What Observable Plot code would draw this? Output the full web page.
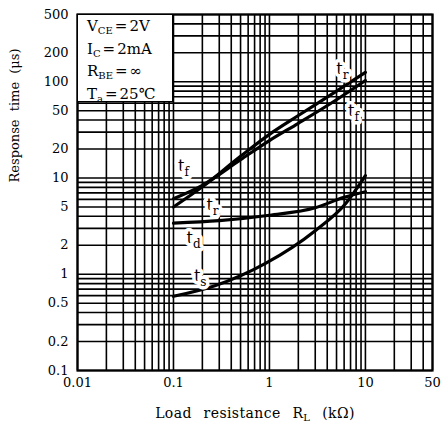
<!DOCTYPE html>
<html><head><meta charset="utf-8">
<script src="https://cdn.jsdelivr.net/npm/d3@7"></script>
<script src="https://cdn.jsdelivr.net/npm/@observablehq/plot@0.6"></script>
<style>
body{margin:0;background:#fff;}
#wrap{position:relative;width:441px;height:432px;overflow:hidden;}
#legend{position:absolute;left:77px;top:14px;width:96px;height:88px;box-sizing:border-box;background:#fff;border:1.5px solid #000;font-family:"DejaVu Serif",serif;font-size:15px;line-height:20.5px;padding:1px 0 0 9px;color:#000;white-space:nowrap;}
#legend .s{font-size:10px;position:relative;top:3px;}
#legend .eq{margin:0 2px;}
</style></head>
<body><div id="wrap"></div>
<script>
// ---- data ----
const RL_tr = [0.1, 0.2, 0.5, 1, 2, 5, 10];
const tr    = [5.0, 8.1, 16.8, 28.4, 44.6, 80, 125];
const RL_tf = [0.1, 0.2, 0.5, 1, 2, 5, 10];
const tf    = [6.1, 8.4, 15.5, 24.5, 37, 65, 103];
const RL_td = [0.1, 0.3, 1, 3, 6, 10];
const td    = [3.4, 3.6, 4.1, 4.9, 6.3, 7.2];
const RL_ts = [0.1, 0.27, 0.9, 3, 6.2, 10];
const ts    = [0.59, 0.76, 1.29, 2.84, 5.4, 10.6];

const xTicks = [0.01, 0.1, 1, 10, 50];
const yTicks = [0.1, 0.2, 0.5, 1, 2, 5, 10, 20, 50, 100, 200, 500];

const labelText = ["t_{r}", "t_{f}", "t_{f}", "t_{r}", "t_{d}", "t_{s}"];
const labelX    = [5.75, 7.5, 0.127, 0.255, 0.162, 0.19];
const labelY    = [137, 50, 13.5, 5.2, 2.4, 0.97];

const conditions = ["V_{CE}=2V", "I_{C}=2mA", "R_{BE}=∞", "T_{a}=25℃"];

const xTitle = "Load resistance R_{L} (kΩ)";
const yTitle = "Response time (μs)";

// ---- build tables ----
const seriesDefs = [["tr", RL_tr, tr], ["tf", RL_tf, tf], ["td", RL_td, td], ["ts", RL_ts, ts]];
const rows = seriesDefs.flatMap(([s, xs, ys]) => xs.map((x, i) => ({series: s, RL: x, t: ys[i]})));
const labels = labelText.map((t, i) => ({text: t, x: labelX[i], y: labelY[i]}));
const xGrid = d3.scaleLog().domain([xTicks[0], xTicks[xTicks.length - 1]]).ticks();
const yGrid = d3.scaleLog().domain([yTicks[0], yTicks[yTicks.length - 1]]).ticks();

const chart = Plot.plot({
  width: 441, height: 432,
  marginTop: 14, marginBottom: 62, marginLeft: 77, marginRight: 9,
  style: {fontFamily: '"DejaVu Serif", serif', fontSize: "13px", color: "#000", background: "#fff"},
  x: {type: "log", domain: [xTicks[0], xTicks[xTicks.length - 1]], axis: null},
  y: {type: "log", domain: [yTicks[0], yTicks[yTicks.length - 1]], axis: null},
  marks: [
    Plot.ruleX(xGrid, {stroke: "#000", strokeWidth: 1.6}),
    Plot.ruleY(yGrid, {stroke: "#000", strokeWidth: 1.6}),
    Plot.frame({stroke: "#000", strokeWidth: 2.2}),
    Plot.line(rows, {x: "RL", y: "t", z: "series", stroke: "#000", strokeWidth: 3.2, curve: "monotone-x"}),
    Plot.text(labels, {x: "x", y: "y", text: "text", fontSize: 16, fill: "#000", stroke: "#fff", strokeWidth: 7}),
    // tick labels
    Plot.text(yTicks, {y: d => d, frameAnchor: "left", dx: -9, textAnchor: "end", text: d => String(d), fontSize: 13}),
    Plot.text(xTicks, {x: d => d, frameAnchor: "bottom", dy: 16, text: d => String(d), fontSize: 13}),
    // axis titles
    Plot.text([yTitle], {frameAnchor: "left", dx: -63, dy: -10, rotate: -90, text: d => d, fontSize: 13}),
    Plot.text([xTitle], {frameAnchor: "bottom", dy: 47, text: d => d, fontSize: 14})
  ]
});

// subscripts: turn "X_{sub}" into tspans
function applySubs(textEl, subSize, shift) {
  const s = textEl.textContent;
  if (!s.includes("_{")) return;
  textEl.textContent = "";
  const re = /_\{([^}]*)\}|([^_]+)/g;
  let m, pending = 0;
  while ((m = re.exec(s))) {
    const ts = document.createElementNS("http://www.w3.org/2000/svg", "tspan");
    if (m[1] !== undefined) {
      ts.textContent = m[1];
      ts.setAttribute("font-size", subSize);
      ts.setAttribute("dy", shift);
      pending = shift;
    } else {
      ts.textContent = m[2];
      if (pending) { ts.setAttribute("dy", -pending); pending = 0; }
    }
    textEl.appendChild(ts);
  }
}
chart.querySelectorAll("text").forEach(t => {
  const s = t.textContent;
  if (s.startsWith("t_{")) applySubs(t, 12, 5);
  else if (s === xTitle) { t.style.wordSpacing = "7px"; t.style.letterSpacing = "0.4px"; applySubs(t, 10, 3); }
  else if (s === yTitle) { t.style.wordSpacing = "4px"; }
});

const wrap = document.getElementById("wrap");
wrap.appendChild(chart);

// conditions legend (upper-left box)
const leg = document.createElement("div");
leg.id = "legend";
leg.innerHTML = conditions.map(c => "<div>" + c.replace("=", "<span class='eq'>=</span>").replace(/_\{([^}]*)\}/g, '<span class="s">$1</span>') + "</div>").join("");
wrap.appendChild(leg);
</script>
</body></html>
